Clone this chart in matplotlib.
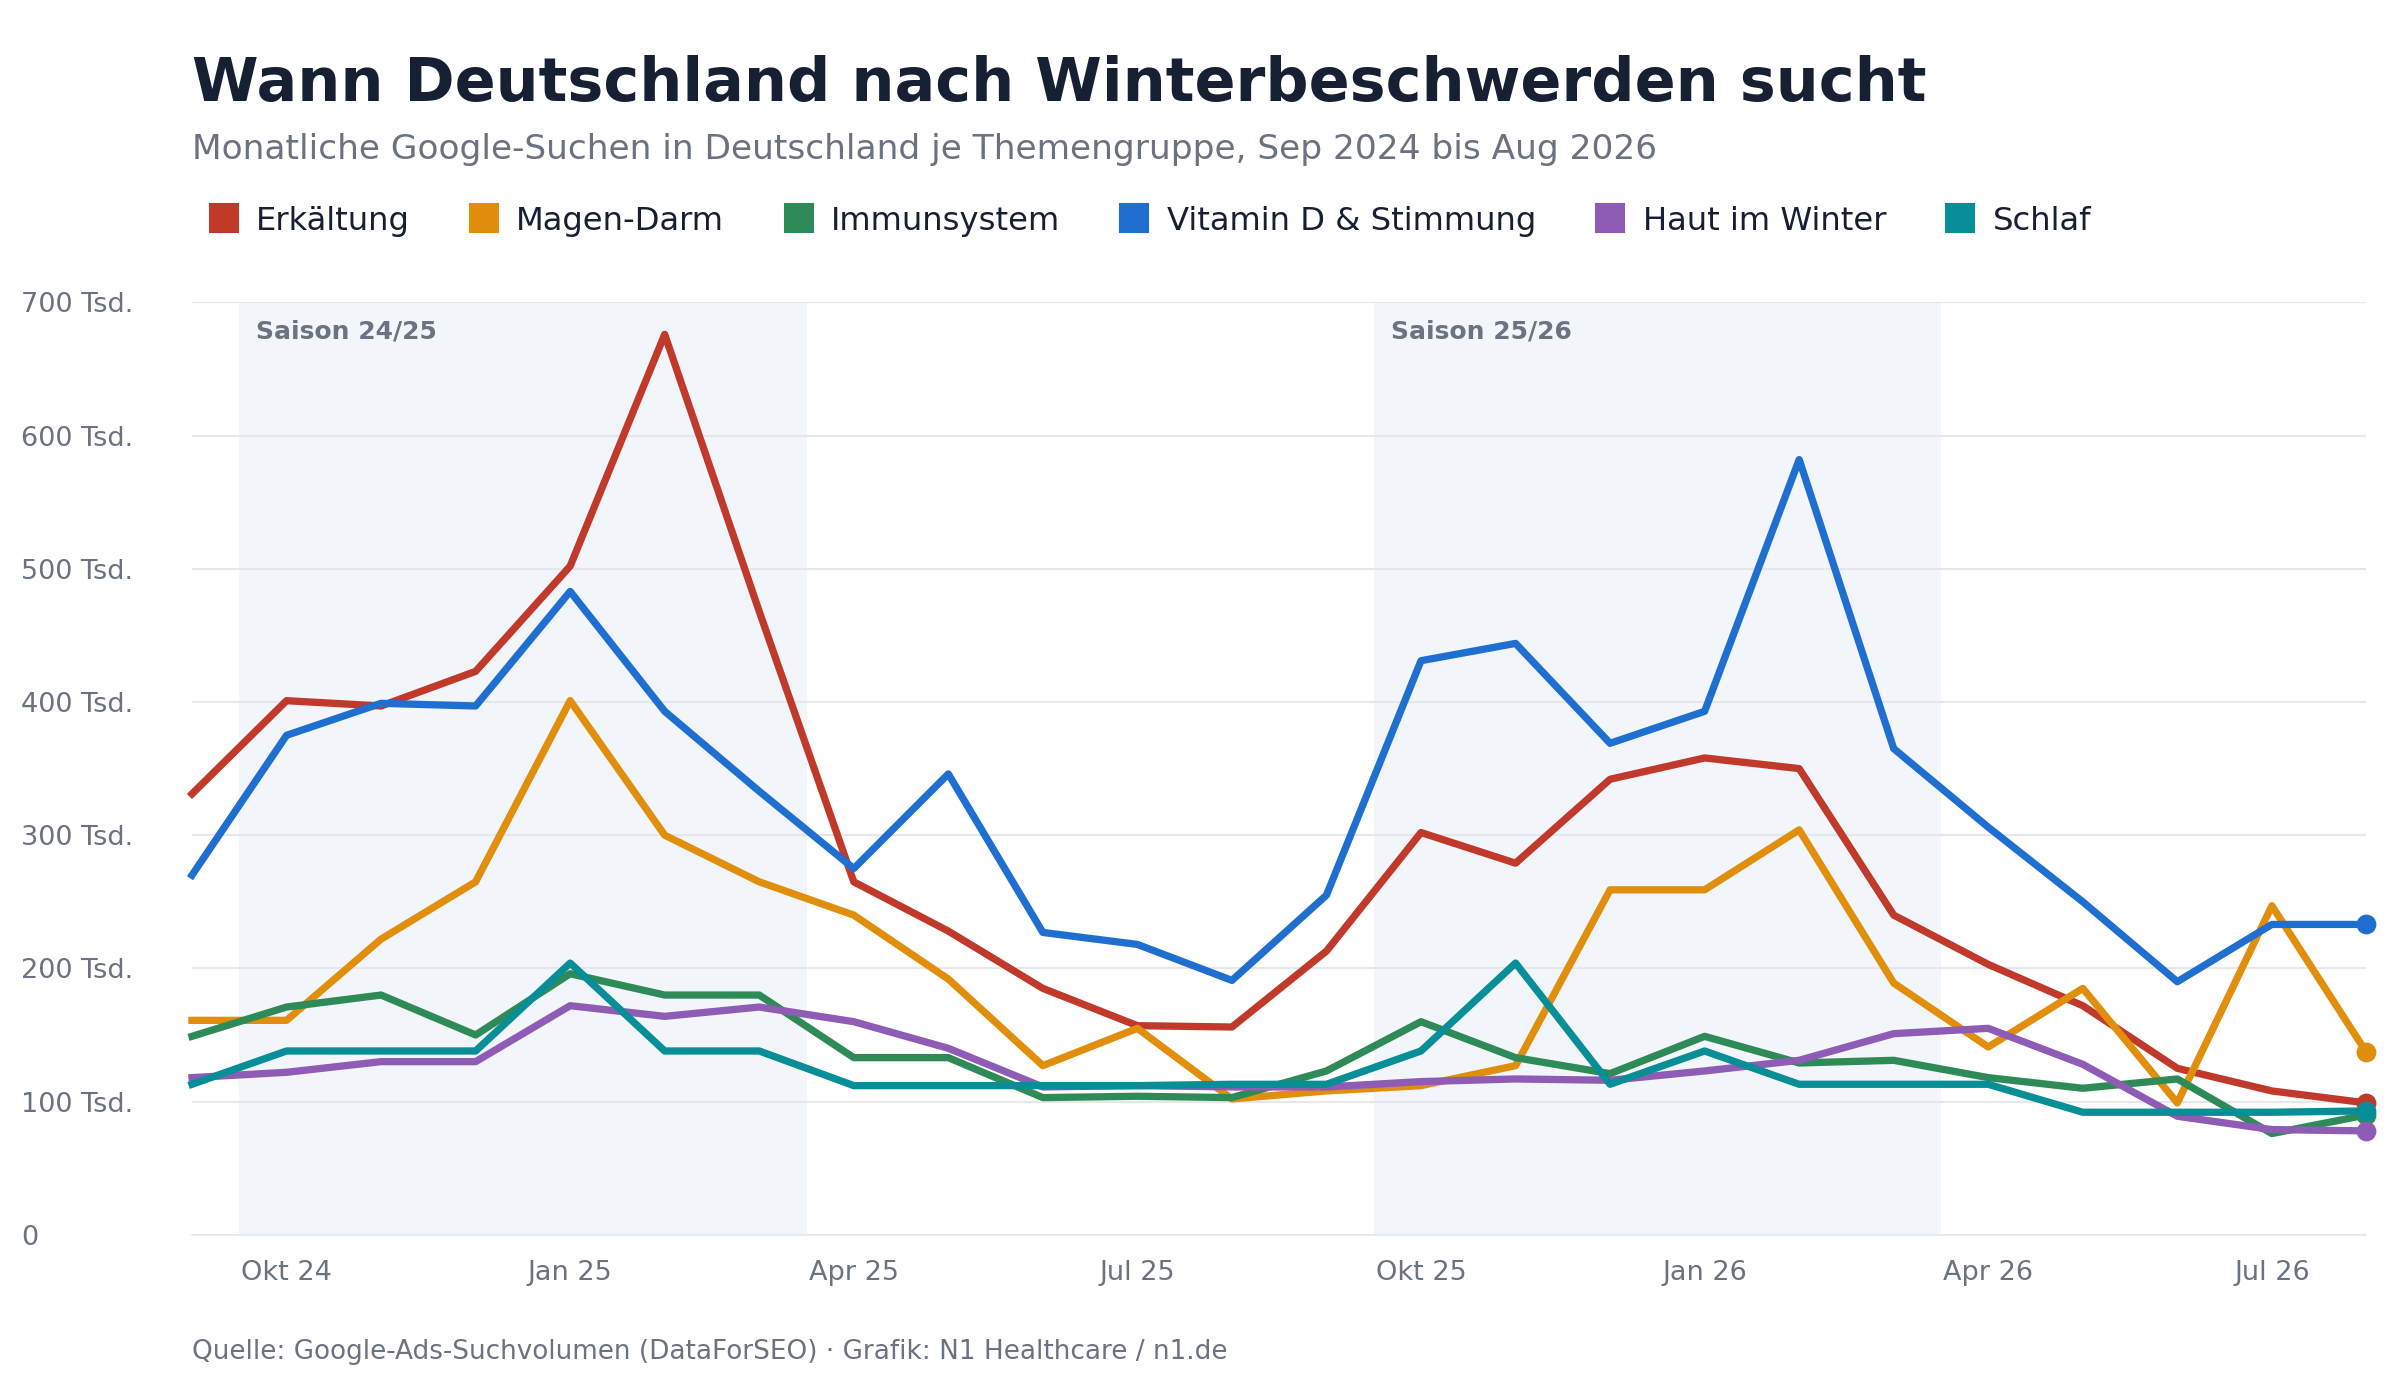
import matplotlib
matplotlib.use("Agg")
import matplotlib.pyplot as plt
from matplotlib.lines import Line2D

months = ["Sep 24","Okt 24","Nov 24","Dez 24","Jan 25","Feb 25","Mär 25","Apr 25","Mai 25","Jun 25","Jul 25","Aug 25",
          "Sep 25","Okt 25","Nov 25","Dez 25","Jan 26","Feb 26","Mär 26","Apr 26","Mai 26","Jun 26","Jul 26","Aug 26"]
erkaeltung = [331,401,397,423,502,676,468,265,228,185,157,156,213,302,279,342,358,350,240,203,172,125,108,99]
magen_darm = [161,161,222,265,401,300,265,240,192,127,155,102,108,112,127,259,259,304,189,141,185,99,247,137]
immunsystem = [149,171,180,150,196,180,180,133,133,103,104,103,123,160,133,121,149,129,131,118,110,117,76,90]
vitamin_d = [270,375,399,397,483,393,333,275,346,227,218,191,255,431,444,369,393,582,365,306,250,190,233,233]
haut = [118,122,130,130,172,164,171,160,140,111,112,111,111,115,117,116,123,131,151,155,128,89,79,78]
schlaf = [113,138,138,138,204,138,138,112,112,112,112,113,113,138,204,113,138,113,113,113,92,92,92,93]

series = [("Erkältung", erkaeltung, "#c0392b"), ("Magen-Darm", magen_darm, "#e08e0b"),
          ("Immunsystem", immunsystem, "#2e8b57"), ("Vitamin D & Stimmung", vitamin_d, "#1f6fd1"),
          ("Haut im Winter", haut, "#8e5bb5"), ("Schlaf", schlaf, "#078e96")]
tick_idx = [1,4,7,10,13,16,19,22]
tick_labels = ["Okt 24","Jan 25","Apr 25","Jul 25","Okt 25","Jan 26","Apr 26","Jul 26"]
yticks = [0,100,200,300,400,500,600,700]
ylabels = ["0"] + [f"{v} Tsd." for v in yticks[1:]]
seasons = [(0.5, 6.5, "Saison 24/25"), (12.5, 18.5, "Saison 25/26")]

fig = plt.figure(figsize=(16, 1400/150), dpi=150)
ax = fig.add_axes([0.08, 0.118, 0.906, 0.666])
x = list(range(len(months)))
for a, b, lab in seasons:
    ax.axvspan(a, b, color="#f2f5fa", zorder=0, lw=0)
    ax.text(a + 0.18, 678, lab, fontsize=12, fontweight="bold", color="#6b7280", va="center")
for name, vals, c in series:
    ax.plot(x, vals, color=c, lw=3.5, solid_joinstyle="round", zorder=3, clip_on=False)
    ax.plot(x[-1], vals[-1], "o", color=c, ms=8.5, zorder=4, clip_on=False)
ax.set_xlim(0, 23)
ax.set_ylim(0, 700)
ax.set_yticks(yticks)
ax.set_yticklabels(ylabels, ha="left")
ax.set_xticks(tick_idx)
ax.set_xticklabels(tick_labels)
ax.tick_params(axis="y", length=0, pad=82, labelsize=13, labelcolor="#6b7280")
ax.tick_params(axis="x", length=0, pad=12, labelsize=13, labelcolor="#6b7280")
ax.grid(axis="y", color="#e5e7eb", lw=1)
for s in ["top","right","left"]:
    ax.spines[s].set_visible(False)
ax.spines["bottom"].set_color("#e5e7eb")

fig.text(0.08, 0.94, "Wann Deutschland nach Winterbeschwerden sucht", fontsize=29, fontweight="bold", color="#172033", va="center")
fig.text(0.08, 0.893, "Monatliche Google-Suchen in Deutschland je Themengruppe, Sep 2024 bis Aug 2026", fontsize=16.5, color="#6b7280", va="center")
handles = [Line2D([0],[0], marker="s", ls="", color=c, ms=13) for _, _, c in series]
fig.legend(handles, [n for n, _, _ in series], loc="center left", bbox_to_anchor=(0.073, 0.842), ncol=6, frameon=False,
           fontsize=15.5, handletextpad=0.4, columnspacing=1.7, handlelength=1.2, labelcolor="#172033")
fig.text(0.08, 0.034, "Quelle: Google-Ads-Suchvolumen (DataForSEO) · Grafik: N1 Healthcare / n1.de", fontsize=12.6, color="#6b7280", va="center")
fig.savefig("out.png", dpi=150, facecolor="white")
